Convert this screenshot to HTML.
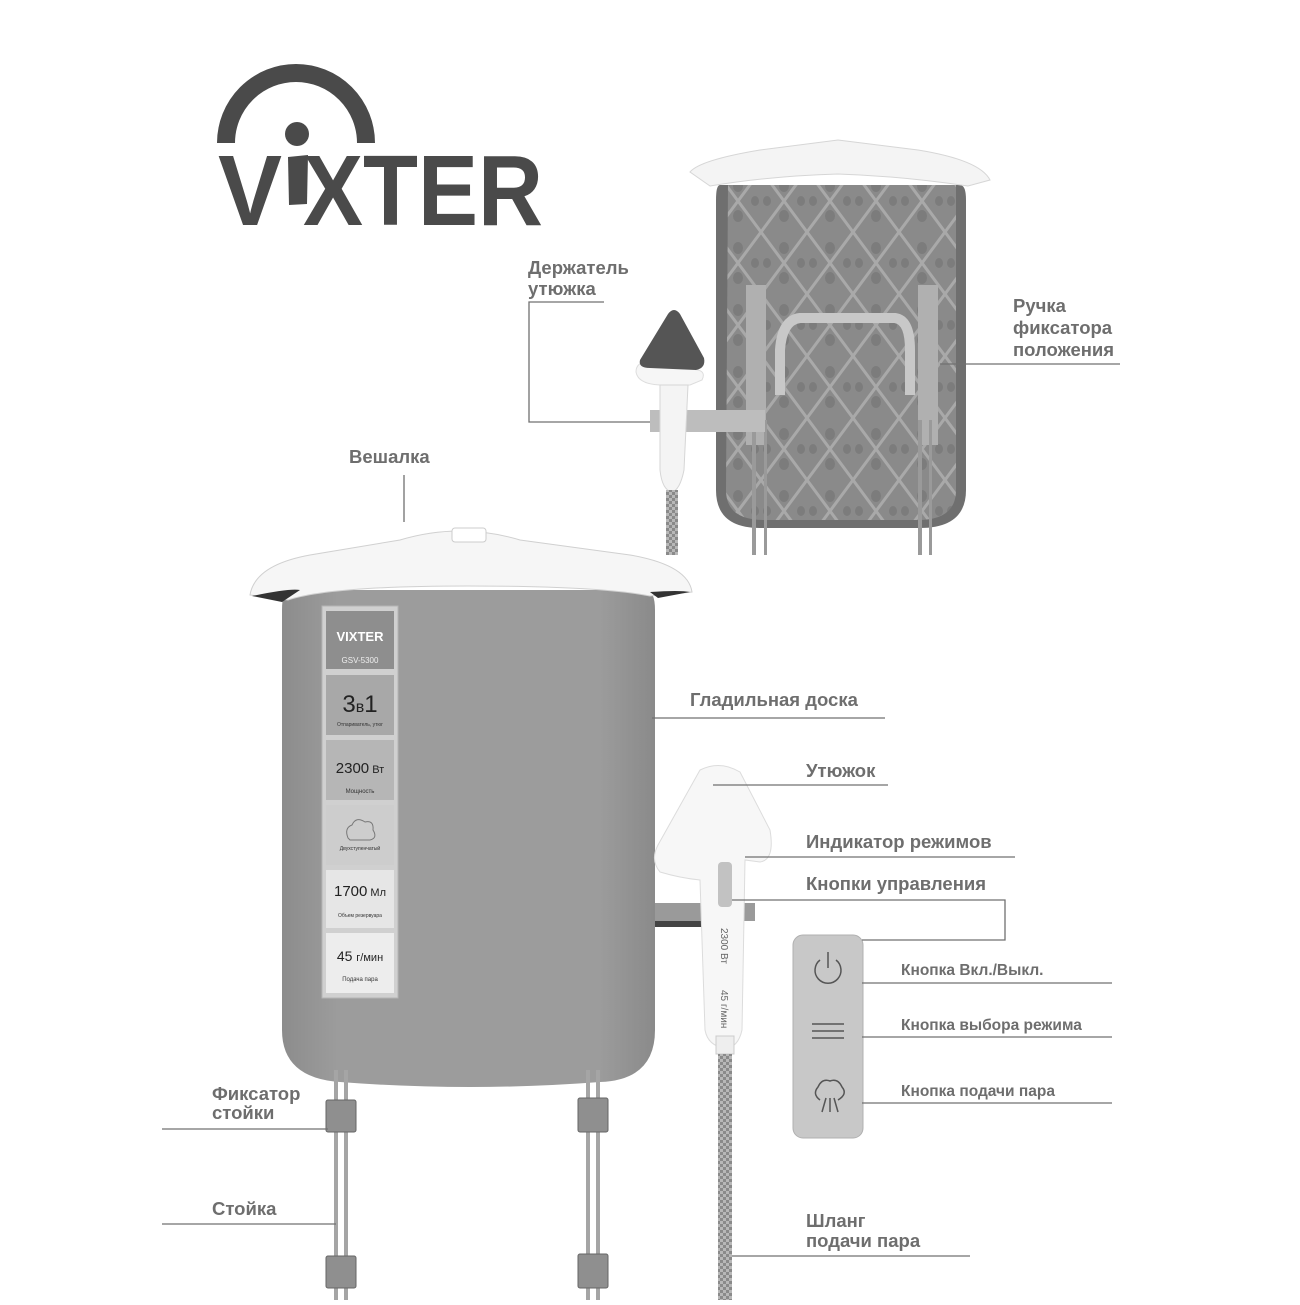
<!DOCTYPE html>
<html><head><meta charset="utf-8">
<style>
html,body{margin:0;padding:0;background:#fff;}
body{width:1300px;height:1300px;overflow:hidden;font-family:"Liberation Sans",sans-serif;}
</style></head>
<body>
<svg width="1300" height="1300" viewBox="0 0 1300 1300" xmlns="http://www.w3.org/2000/svg" font-family="Liberation Sans, sans-serif">
<defs>
  <pattern id="dia" width="46" height="62" patternUnits="userSpaceOnUse" x="715" y="170">
    <rect width="46" height="62" fill="#8a8a8a"/>
    <path d="M0 0 L46 62 M46 0 L0 62" stroke="#a9a9a9" stroke-width="3"/>
    <ellipse cx="23" cy="16" rx="5" ry="6" fill="#7c7c7c"/>
    <ellipse cx="23" cy="46" rx="5" ry="6" fill="#7c7c7c"/>
    <ellipse cx="6" cy="31" rx="4" ry="5" fill="#7c7c7c"/>
    <ellipse cx="40" cy="31" rx="4" ry="5" fill="#7c7c7c"/>
  </pattern>
  <pattern id="hose" width="6" height="6" patternUnits="userSpaceOnUse">
    <rect width="6" height="6" fill="#b8b8b8"/><rect width="3" height="3" fill="#8a8a8a"/><rect x="3" y="3" width="3" height="3" fill="#8a8a8a"/>
  </pattern>
  <linearGradient id="board" x1="0" x2="1"><stop offset="0" stop-color="#8c8c8c"/><stop offset="0.15" stop-color="#9c9c9c"/><stop offset="0.85" stop-color="#9c9c9c"/><stop offset="1" stop-color="#8a8a8a"/></linearGradient>
</defs>

<!-- Logo -->
<path d="M226 143 A70 70 0 0 1 366 143" fill="none" stroke="#4a4a4a" stroke-width="18"/>
<circle cx="297" cy="134" r="12" fill="#4a4a4a"/>
<path d="M288 157 L308 155 L307 204 L289 205 Z" fill="#4a4a4a"/>
<text x="218" y="225" font-size="100" font-weight="bold" fill="#4a4a4a" textLength="64" lengthAdjust="spacingAndGlyphs">V</text>
<text x="303" y="225" font-size="100" font-weight="bold" fill="#4a4a4a" textLength="240" lengthAdjust="spacingAndGlyphs">XTER</text>

<!-- Back view board -->
<path d="M720 185 L960 185 Q966 185 966 200 L966 490 Q966 528 920 528 L760 528 Q716 528 716 490 L716 200 Q716 185 720 185 Z" fill="#6f6f6f"/>
<path d="M728 185 L956 185 L956 490 Q956 520 918 520 L764 520 Q726 520 726 490 Z" fill="url(#dia)"/>
<path d="M690 172 Q700 160 760 150 L838 140 L918 150 Q980 160 990 180 L968 186 Q900 176 838 174 Q770 176 710 186 Z" fill="#f4f4f4" stroke="#d6d6d6"/>
<path d="M780 395 L780 350 Q782 320 800 318 L895 318 Q910 320 910 350 L910 395" fill="none" stroke="#c8c8c8" stroke-width="10"/>
<rect x="746" y="285" width="20" height="160" fill="#b0b0b0"/>
<rect x="918" y="285" width="20" height="160" fill="#b0b0b0"/>
<rect x="752" y="420" width="4" height="135" fill="#9a9a9a"/><rect x="764" y="420" width="3" height="135" fill="#9a9a9a"/>
<rect x="918" y="420" width="4" height="135" fill="#9a9a9a"/><rect x="929" y="420" width="3" height="135" fill="#9a9a9a"/>
<!-- holder + iron -->
<rect x="650" y="410" width="115" height="22" fill="#bdbdbd"/>
<path d="M636 372 Q636 362 648 362 L698 370 Q706 372 702 380 L690 385 L660 385 Q638 384 636 372 Z" fill="#f6f6f6" stroke="#ddd"/>
<path d="M640 360 L668 314 Q674 306 680 314 L704 358 Q706 368 696 370 L650 368 Q638 368 640 360 Z" fill="#555"/>
<path d="M660 385 L688 385 L684 470 Q680 490 672 492 Q662 490 660 470 Z" fill="#f4f4f4" stroke="#d6d6d6"/>
<rect x="666" y="490" width="12" height="65" fill="url(#hose)"/>

<!-- Main board -->
<path d="M290 590 L645 590 Q655 590 655 610 L655 1030 Q655 1080 600 1082 Q470 1092 340 1082 Q282 1078 282 1030 L282 610 Q282 590 290 590 Z" fill="url(#board)"/>
<path d="M250 595 Q255 565 310 555 L400 540 Q460 522 520 540 L630 555 Q688 565 692 592 L650 596 Q600 586 468 586 Q330 586 288 600 Z" fill="#f6f6f6" stroke="#d0d0d0"/>
<path d="M252 596 Q290 588 300 590 L282 602 Z M650 592 Q680 590 690 592 L658 598 Z" fill="#333"/>
<rect x="452" y="528" width="34" height="14" rx="3" fill="#fff" stroke="#ccc"/>

<!-- label strip -->
<rect x="322" y="606" width="76" height="392" fill="#d0d0d0" stroke="#b5b5b5"/>
<rect x="326" y="611" width="68" height="58" fill="#8e8e8e"/>
<text x="360" y="641" font-size="13" font-weight="bold" fill="#fff" text-anchor="middle">VIXTER</text>
<text x="360" y="663" font-size="8" fill="#eee" text-anchor="middle">GSV-5300</text>
<rect x="326" y="675" width="68" height="60" fill="#a8a8a8"/>
<text x="360" y="712" font-size="24" fill="#222" text-anchor="middle">3<tspan font-size="16">в</tspan>1</text>
<text x="360" y="726" font-size="5" fill="#333" text-anchor="middle">Отпариватель, утюг</text>
<rect x="326" y="740" width="68" height="60" fill="#b6b6b6"/>
<text x="360" y="773" font-size="15" fill="#222" text-anchor="middle">2300<tspan font-size="11"> Вт</tspan></text>
<text x="360" y="793" font-size="6" fill="#333" text-anchor="middle">Мощность</text>
<rect x="326" y="805" width="68" height="60" fill="#cdcdcd"/>
<path d="M348 838 Q344 828 352 825 Q356 816 365 822 Q374 820 373 830 Q378 838 370 840 L350 840 Z" fill="none" stroke="#777"/>
<text x="360" y="850" font-size="5" fill="#333" text-anchor="middle">Двухступенчатый</text>
<rect x="326" y="870" width="68" height="58" fill="#e6e6e6"/>
<text x="360" y="896" font-size="15" fill="#222" text-anchor="middle">1700<tspan font-size="11"> Мл</tspan></text>
<text x="360" y="917" font-size="5" fill="#333" text-anchor="middle">Объем резервуара</text>
<rect x="326" y="933" width="68" height="60" fill="#ededed"/>
<text x="360" y="961" font-size="14" fill="#222" text-anchor="middle">45 <tspan font-size="11">г/мин</tspan></text>
<text x="360" y="981" font-size="6" fill="#333" text-anchor="middle">Подача пара</text>

<!-- legs -->
<g fill="#a5a5a5">
<rect x="334" y="1070" width="4" height="230"/><rect x="344" y="1070" width="4" height="230"/>
<rect x="586" y="1070" width="4" height="230"/><rect x="596" y="1070" width="4" height="230"/>
</g>
<g fill="#8f8f8f" stroke="#666">
<rect x="326" y="1100" width="30" height="32" rx="2"/><rect x="326" y="1256" width="30" height="32" rx="2"/>
<rect x="578" y="1098" width="30" height="34" rx="2"/><rect x="578" y="1254" width="30" height="34" rx="2"/>
</g>

<!-- iron side view -->
<rect x="655" y="903" width="100" height="18" fill="#9a9a9a"/>
<rect x="655" y="921" width="50" height="6" fill="#444"/>
<path d="M700 770 Q720 760 740 772 L770 830 Q775 860 760 862 L745 860 L742 1030 Q738 1048 725 1048 Q708 1046 705 1030 L700 880 Q680 878 660 872 Q650 860 658 845 Z" fill="#f7f7f7" stroke="#dcdcdc"/>
<rect x="718" y="862" width="14" height="45" rx="4" fill="#c2c2c2"/>
<text x="721" y="928" font-size="10" fill="#666" transform="rotate(90 721 928)">2300 Вт</text>
<text x="721" y="990" font-size="10" fill="#666" transform="rotate(90 721 990)">45 г/мин</text>
<rect x="716" y="1036" width="18" height="18" fill="#eee" stroke="#ccc"/>
<rect x="718" y="1054" width="14" height="246" fill="url(#hose)"/>

<!-- remote panel -->
<rect x="793" y="935" width="70" height="203" rx="10" fill="#c8c8c8" stroke="#b0b0b0"/>
<path d="M820 960 A13 13 0 1 0 836 960" fill="none" stroke="#555" stroke-width="1.5"/>
<line x1="828" y1="952" x2="828" y2="968" stroke="#555" stroke-width="1.5"/>
<g stroke="#555" stroke-width="1.5"><line x1="812" y1="1024" x2="844" y2="1024"/><line x1="812" y1="1031" x2="844" y2="1031"/><line x1="812" y1="1038" x2="844" y2="1038"/></g>
<path d="M820 1100 Q812 1094 818 1087 Q822 1078 830 1081 Q838 1078 842 1087 Q848 1094 838 1100" fill="none" stroke="#555" stroke-width="1.5"/>
<g stroke="#555" stroke-width="1.5"><line x1="826" y1="1098" x2="822" y2="1112"/><line x1="830" y1="1098" x2="830" y2="1112"/><line x1="834" y1="1098" x2="838" y2="1112"/></g>

<!-- leader lines -->
<g stroke="#707070" stroke-width="1.3" fill="none">
<polyline points="604,302 529,302 529,422 650,422"/>
<line x1="940" y1="364" x2="1120" y2="364"/>
<line x1="404" y1="475" x2="404" y2="522"/>
<line x1="652" y1="718" x2="885" y2="718"/>
<line x1="713" y1="785" x2="888" y2="785"/>
<line x1="745" y1="857" x2="1015" y2="857"/>
<polyline points="732,900 1005,900 1005,940 862,940"/>
<line x1="862" y1="983" x2="1112" y2="983"/>
<line x1="862" y1="1037" x2="1112" y2="1037"/>
<line x1="862" y1="1103" x2="1112" y2="1103"/>
<line x1="162" y1="1129" x2="328" y2="1129"/>
<line x1="162" y1="1224" x2="336" y2="1224"/>
<line x1="732" y1="1256" x2="970" y2="1256"/>
</g>

<!-- labels -->
<g font-weight="bold" fill="#6e6e6e" font-size="18.5">
<text x="528" y="274">Держатель</text>
<text x="528" y="295">утюжка</text>
<text x="1013" y="312">Ручка</text>
<text x="1013" y="334">фиксатора</text>
<text x="1013" y="356">положения</text>
<text x="349" y="463">Вешалка</text>
<text x="690" y="706">Гладильная доска</text>
<text x="806" y="777">Утюжок</text>
<text x="806" y="848">Индикатор режимов</text>
<text x="806" y="890">Кнопки управления</text>
<text x="212" y="1100">Фиксатор</text>
<text x="212" y="1119">стойки</text>
<text x="212" y="1215">Стойка</text>
<text x="806" y="1227">Шланг</text>
<text x="806" y="1247">подачи пара</text>
</g>
<g font-weight="bold" fill="#6e6e6e" font-size="15.5">
<text x="901" y="975">Кнопка Вкл./Выкл.</text>
<text x="901" y="1030">Кнопка выбора режима</text>
<text x="901" y="1096">Кнопка подачи пара</text>
</g>
</svg>
</body></html>
